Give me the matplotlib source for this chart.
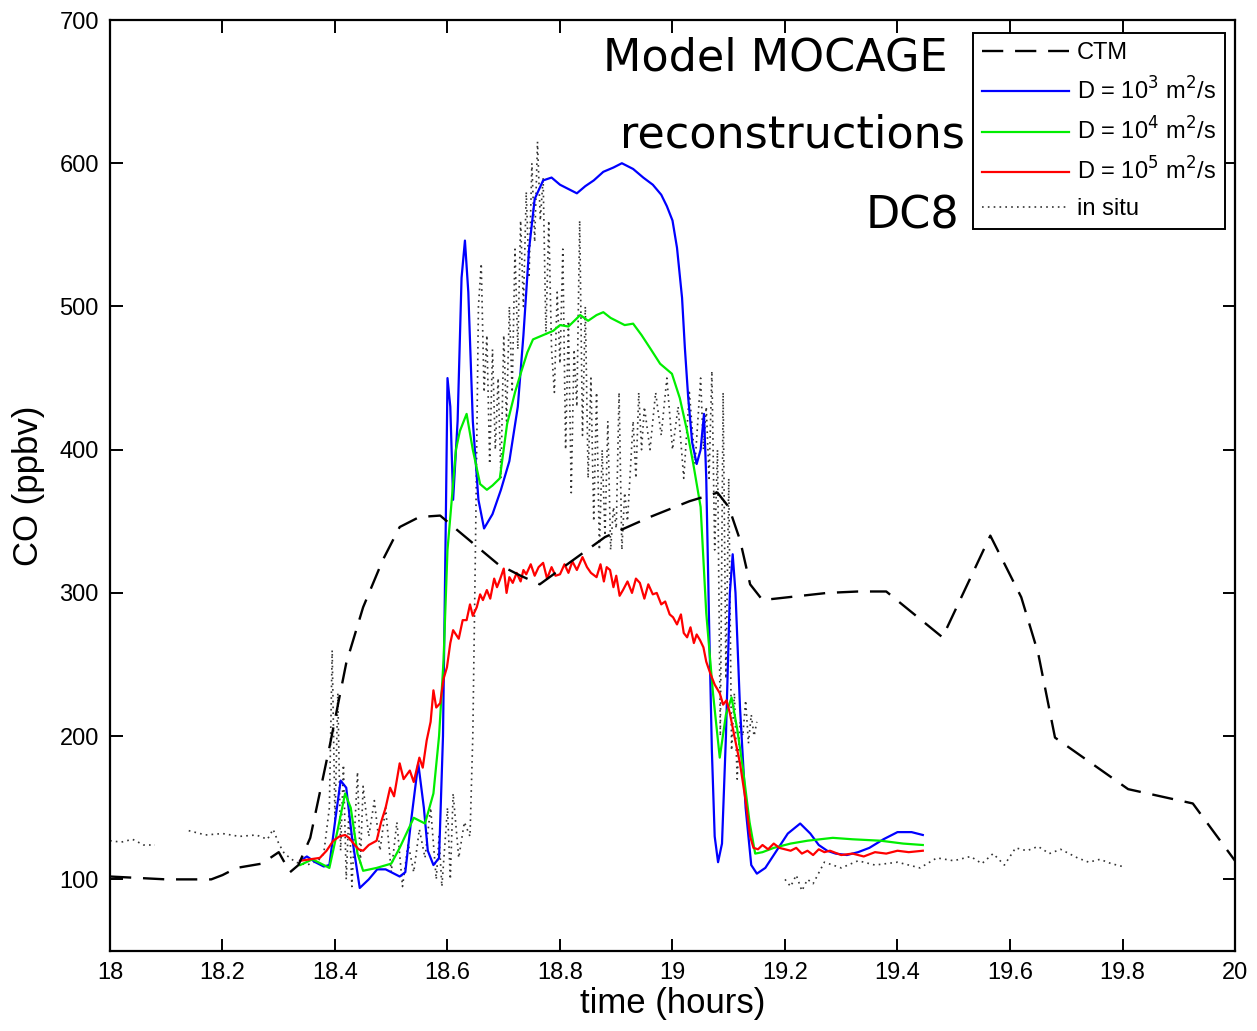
import numpy as np
import matplotlib
matplotlib.use('Agg')
from matplotlib import pyplot as plt

plt.rcParams['font.family'] = ['Liberation Sans', 'DejaVu Sans']

# CTM model (dashed)
ctm_t = [18.0, 18.1, 18.18, 18.2, 18.225, 18.27, 18.30, 18.32, 18.335, 18.356, 18.39, 18.42, 18.45,
         18.485, 18.515, 18.55, 18.587, 18.62, 18.69, 18.73, 18.764, 18.82, 18.88, 18.96, 19.03, 19.08,
         19.10, 19.12, 19.138, 19.16, 19.275, 19.33, 19.38, 19.48, 19.565, 19.62, 19.65, 19.68, 19.81,
         19.925, 20.0]
ctm_v = [102, 100, 100, 103, 108, 111, 119, 105, 110, 129, 192, 251, 290,
         323, 346, 353, 354, 343, 320, 312, 306, 322, 339, 353, 364, 370,
         360, 337, 306, 295, 300, 301, 301, 269, 340, 297, 258, 199, 163,
         153, 113]

# D = 1e3 m2/s (blue)
d3_t = [18.338, 18.35, 18.365, 18.38, 18.39, 18.40, 18.41, 18.42, 18.43, 18.444, 18.46, 18.475, 18.49,
        18.50, 18.515, 18.525, 18.535, 18.548, 18.558, 18.565, 18.575, 18.585, 18.592, 18.597, 18.60,
        18.605, 18.61, 18.618, 18.625, 18.631, 18.637, 18.645, 18.655, 18.665, 18.68, 18.695, 18.71,
        18.725, 18.735, 18.745, 18.755, 18.77, 18.785, 18.80, 18.815, 18.83, 18.845, 18.86, 18.877,
        18.895, 18.91, 18.93, 18.948, 18.965, 18.98, 18.99, 19.00, 19.008, 19.017, 19.022, 19.028,
        19.035, 19.043, 19.05, 19.056, 19.06, 19.065, 19.07, 19.075, 19.081, 19.088, 19.095, 19.102,
        19.107, 19.112, 19.12, 19.13, 19.14, 19.15, 19.165, 19.185, 19.205, 19.227, 19.245, 19.26,
        19.275, 19.29, 19.31, 19.33, 19.35, 19.375, 19.40, 19.425, 19.445]
d3_v = [113, 116, 112, 109, 110, 140, 169, 164, 130, 94, 100, 107, 107,
        105, 102, 105, 140, 181, 150, 120, 110, 115, 200, 350, 450,
        430, 365, 420, 520, 546, 510, 420, 365, 345, 355, 372, 392,
        430, 480, 540, 575, 588, 590, 585, 582, 579, 584, 588, 594,
        597, 600, 596, 590, 585, 578, 570, 560, 541, 506, 471, 436,
        405, 390, 400, 425, 380, 280, 190, 130, 112, 125, 200, 300,
        327, 300, 220, 150, 110, 104, 108, 120, 132, 139, 132, 124,
        120, 118, 117, 119, 122, 128, 133, 133, 131]

# D = 1e4 m2/s (green)
d4_t = [18.338, 18.36, 18.375, 18.39, 18.405, 18.418, 18.428, 18.44, 18.45, 18.474, 18.50, 18.515,
        18.54, 18.56, 18.575, 18.585, 18.593, 18.60, 18.608, 18.615, 18.622, 18.634, 18.645, 18.658,
        18.67, 18.68, 18.693, 18.706, 18.72, 18.73, 18.742, 18.752, 18.77, 18.788, 18.80, 18.815,
        18.836, 18.85, 18.865, 18.877, 18.89, 18.90, 18.915, 18.93, 18.945, 18.96, 18.978, 18.999,
        19.013, 19.026, 19.037, 19.05, 19.06, 19.072, 19.084, 19.095, 19.105, 19.115, 19.125, 19.137,
        19.147, 19.16, 19.18, 19.21, 19.24, 19.285, 19.32, 19.37, 19.41, 19.445]
d4_v = [110, 114, 111, 108, 135, 160, 150, 118, 106, 108, 111, 122,
        143, 139, 160, 200, 253, 330, 367, 400, 413, 425, 400, 376,
        372, 375, 380, 418, 440, 453, 468, 477, 480, 483, 487, 486,
        494, 490, 494, 496, 492, 490, 487, 488, 480, 471, 460, 453,
        436, 413, 390, 360, 286, 230, 185, 215, 227, 205, 178, 140,
        118, 119, 122, 125, 127, 129, 128, 127, 125, 124]

# D = 1e5 m2/s (red)
d5_t = [18.338, 18.355, 18.373, 18.385, 18.397, 18.408, 18.418, 18.425, 18.433, 18.442, 18.45, 18.46,
        18.474, 18.482, 18.49, 18.498, 18.505, 18.515, 18.522, 18.533, 18.54, 18.55, 18.556, 18.563,
        18.57, 18.575, 18.58, 18.587, 18.593, 18.599, 18.605, 18.61, 18.62, 18.627, 18.634, 18.64,
        18.645, 18.652, 18.658, 18.663, 18.67, 18.676, 18.683, 18.688, 18.693, 18.70, 18.705, 18.71,
        18.716, 18.723, 18.73, 18.735, 18.74, 18.748, 18.755, 18.762, 18.77, 18.777, 18.785, 18.792,
        18.80, 18.808, 18.815, 18.822, 18.83, 18.84, 18.848, 18.855, 18.865, 18.872, 18.878, 18.883,
        18.889, 18.895, 18.90, 18.906, 18.912, 18.92, 18.928, 18.935, 18.942, 18.95, 18.957, 18.965,
        18.972, 18.98, 18.987, 18.995, 19.001, 19.008, 19.015, 19.02, 19.026, 19.032, 19.038, 19.043,
        19.049, 19.055, 19.06, 19.067, 19.075, 19.084, 19.09, 19.096, 19.102, 19.11, 19.12, 19.13,
        19.138, 19.144, 19.152, 19.16, 19.17, 19.18, 19.19, 19.2, 19.21, 19.22, 19.23, 19.24, 19.25,
        19.26, 19.27, 19.28, 19.3, 19.32, 19.34, 19.36, 19.38, 19.4, 19.42, 19.445]
d5_v = [113, 114, 115, 120, 127, 130, 131, 129, 125, 121, 120, 124,
        127, 140, 150, 164, 158, 181, 170, 176, 168, 185, 178, 197,
        210, 232, 220, 223, 240, 248, 265, 274, 268, 281, 281, 292,
        284, 290, 299, 295, 302, 296, 310, 304, 309, 317, 300, 311,
        307, 314, 308, 316, 313, 320, 312, 318, 321, 310, 318, 312,
        313, 320, 314, 322, 316, 325, 318, 314, 311, 320, 308, 318,
        316, 304, 312, 298, 302, 308, 300, 310, 307, 296, 306, 299,
        300, 292, 294, 285, 283, 278, 285, 272, 269, 276, 265, 271,
        267, 262, 252, 244, 236, 230, 222, 225, 216, 200, 181, 155,
        130, 122, 121, 124, 121, 125, 122, 121, 120, 122, 118, 120, 117,
        121, 119, 120, 117, 118, 116, 119, 118, 120, 119, 120]

# in situ DC8 measurements (dotted), nan = gap
situ_t = [18.00, 18.02, 18.04, 18.06, 18.08, 18.11,
          18.14, 18.17, 18.20, 18.23, 18.26, 18.28, 18.29, 18.30, 18.31, 18.33, 18.35, 18.37, 18.38,
          18.39, 18.395, 18.40, 18.405, 18.41, 18.415, 18.42, 18.425, 18.43, 18.44, 18.445, 18.45,
          18.46, 18.47, 18.48, 18.49, 18.50, 18.51, 18.52, 18.53, 18.54, 18.55, 18.56, 18.57, 18.58,
          18.585, 18.59, 18.60, 18.605, 18.61, 18.62, 18.63, 18.64, 18.645, 18.65, 18.655, 18.66,
          18.665, 18.67, 18.675, 18.68, 18.685, 18.69, 18.695, 18.70, 18.705, 18.71, 18.715, 18.72,
          18.725, 18.73, 18.735, 18.74, 18.745, 18.75, 18.755, 18.76, 18.765, 18.77, 18.775, 18.78,
          18.785, 18.79, 18.795, 18.80, 18.805, 18.81, 18.815, 18.82, 18.825, 18.83, 18.835, 18.84,
          18.845, 18.85, 18.855, 18.86, 18.865, 18.87, 18.875, 18.88, 18.885, 18.89, 18.895, 18.90,
          18.905, 18.91, 18.915, 18.92, 18.93, 18.935, 18.94, 18.945, 18.95, 18.96, 18.97, 18.98,
          18.99, 19.00, 19.01, 19.02, 19.03, 19.04, 19.05, 19.055, 19.06, 19.065, 19.07, 19.075,
          19.08, 19.085, 19.09, 19.095, 19.10, 19.105, 19.11, 19.115, 19.12, 19.125, 19.13, 19.135,
          19.14, 19.145, 19.15, 19.175,
          19.20, 19.21, 19.22, 19.23, 19.24, 19.25, 19.27, 19.30, 19.33, 19.36, 19.40, 19.44, 19.47,
          19.50, 19.53, 19.55, 19.57, 19.59, 19.61, 19.63, 19.65, 19.67, 19.69, 19.72, 19.74, 19.76,
          19.78, 19.80]
situ_v = [127, 126, 128, 124, 124, np.nan,
          134, 131, 132, 130, 131, 128, 135, 125, 118, 112, 110, 113, 118,
          150, 260, 140, 230, 120, 180, 100, 150, 95, 175, 110, 165,
          130, 155, 120, 150, 105, 140, 95, 125, 105, 135, 115, 150, 100,
          130, 95, 150, 100, 160, 115, 140, 130, 200, 340, 500, 530,
          440, 480, 390, 470, 400, 450, 380, 480, 420, 500, 440, 540,
          470, 560, 500, 580, 520, 600, 545, 615, 560, 590, 480, 560,
          470, 440, 510, 460, 540, 400, 490, 370, 470, 430, 560, 410,
          500, 380, 450, 350, 440, 330, 400, 340, 420, 330, 360, 345,
          440, 330, 370, 350, 420, 380, 440, 400, 430, 400, 440, 410,
          450, 400, 430, 380, 440, 390, 450, 400, 430, 380, 455, 330,
          400, 200, 440, 240, 380, 190, 230, 170, 210, 200, 225, 195,
          215, 200, 210, np.nan,
          100, 95, 103, 92, 100, 97, 112, 108, 113, 110, 112, 108, 115,
          113, 116, 111, 118, 110, 122, 120, 123, 118, 121, 115, 112, 114,
          111, 109]

fig = plt.figure(figsize=(12.57, 10.31), dpi=100)
ax = fig.add_axes([0.0875, 0.0776, 0.895, 0.903])

ax.plot(ctm_t, ctm_v, color='black', lw=1.7, dashes=(9, 5), label='CTM', zorder=3)
ax.plot(d3_t, d3_v, color='#0000ff', lw=1.6, label='D = 10$^3$ m$^2$/s')
ax.plot(d4_t, d4_v, color='#00ee00', lw=1.6, label='D = 10$^4$ m$^2$/s')
ax.plot(d5_t, d5_v, color='#ff0000', lw=1.6, label='D = 10$^5$ m$^2$/s')
ax.plot(situ_t, situ_v, color='0.2', lw=1.2, ls=(0, (1, 2.5)), label='in situ', zorder=1)

ax.set_xlim(18, 20)
ax.set_ylim(50, 700)
ax.set_xticks([18, 18.2, 18.4, 18.6, 18.8, 19, 19.2, 19.4, 19.6, 19.8, 20])
ax.set_xticklabels(['18', '18.2', '18.4', '18.6', '18.8', '19', '19.2', '19.4', '19.6', '19.8', '20'])
ax.set_yticks([100, 200, 300, 400, 500, 600, 700])
ax.tick_params(direction='in', length=9, width=1.4, top=True, right=True, labelsize=17, pad=8)
for s in ax.spines.values():
    s.set_linewidth(1.6)

ax.set_xlabel('time (hours)', fontsize=25, labelpad=2)
ax.set_ylabel('CO (ppbv)', fontsize=25, labelpad=10)

ax.text(0.745, 0.959, 'Model MOCAGE', transform=ax.transAxes, ha='right', va='center',
        fontsize=32, family='DejaVu Sans')
ax.text(0.76, 0.876, 'reconstructions', transform=ax.transAxes, ha='right', va='center',
        fontsize=32, family='DejaVu Sans')
ax.text(0.755, 0.79, 'DC8', transform=ax.transAxes, ha='right', va='center',
        fontsize=32, family='DejaVu Sans')

leg = ax.legend(loc='upper right', bbox_to_anchor=(0.991, 0.986), borderaxespad=0, fontsize=17,
                handlelength=3.7, labelspacing=0.55, fancybox=False, framealpha=1,
                edgecolor='black', borderpad=0.4, handletextpad=0.3)
leg.get_frame().set_linewidth(1.4)

fig.savefig('out.png', dpi=100)
